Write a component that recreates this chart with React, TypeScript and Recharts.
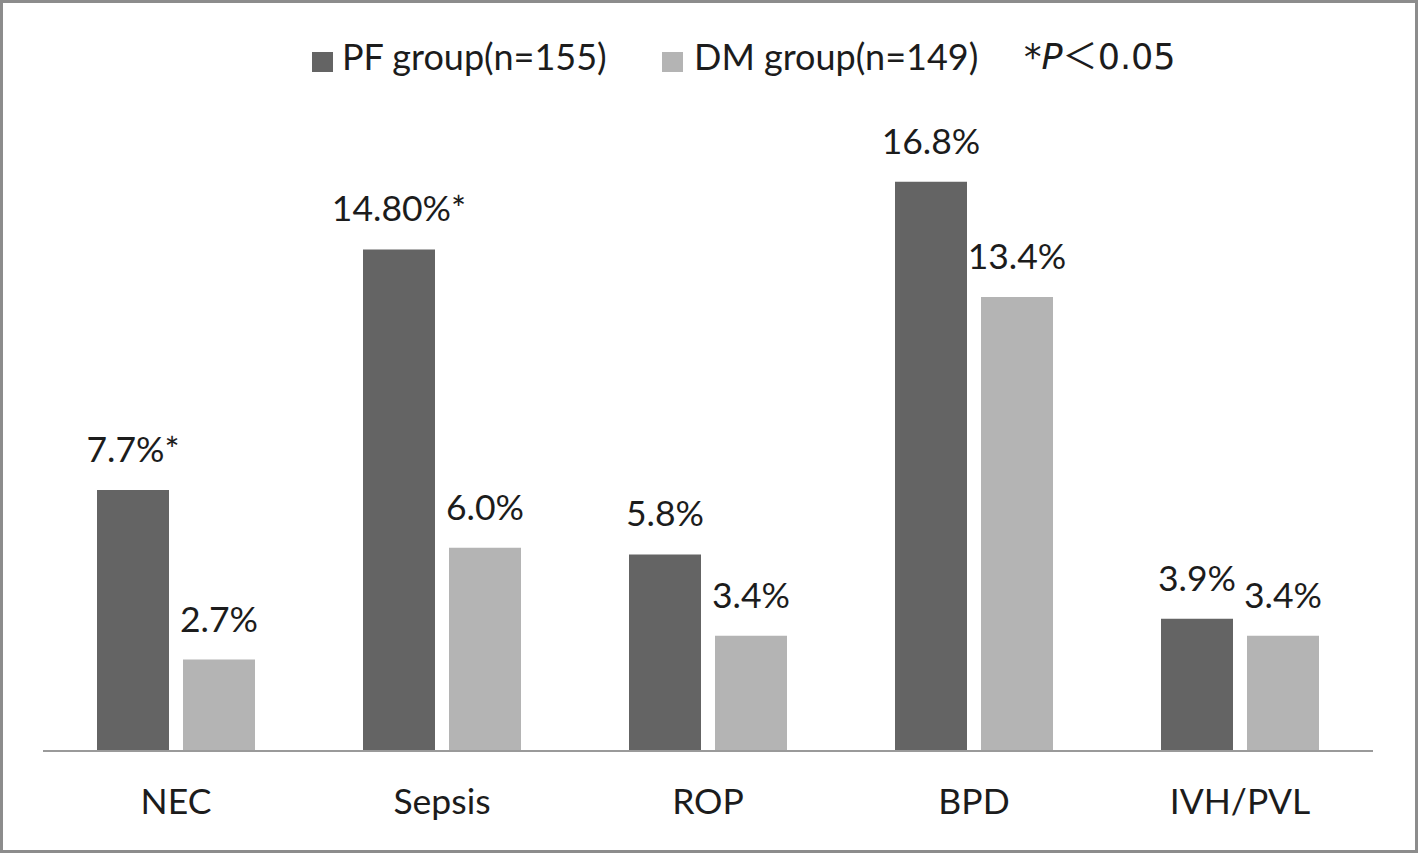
import { BarChart, Bar, XAxis, YAxis, LabelList } from "recharts";

const categories = ["NEC", "Sepsis", "ROP", "BPD", "IVH/PVL"];
const pfValues = [7.7, 14.8, 5.8, 16.8, 3.9];
const dmValues = [2.7, 6.0, 3.4, 13.4, 3.4];
const pfLabels = ["7.7%*", "14.80%*", "5.8%", "16.8%", "3.9%"];
const dmLabels = ["2.7%", "6.0%", "3.4%", "13.4%", "3.4%"];

const PF_COLOR = "#646464";
const DM_COLOR = "#b4b4b4";
const TEXT = "#1c1c1c";
const FONT = "Lato, 'Open Sans', sans-serif";
const FONT_SIZE = 35.5;

const data = categories.map((name, i) => ({
    name,
    pf: pfValues[i],
    dm: dmValues[i],
}));

const makeLabel = (labels: string[]) => (props: any) => {
    const { x, y, width, index } = props;
    return (
        <text
            x={x + width / 2}
            y={y - 28}
            textAnchor="middle"
            fill={TEXT}
            fontSize={FONT_SIZE}
            fontFamily={FONT}
        >
            {labels[index]}
        </text>
    );
};

const CategoryTick = (props: any) => {
    const { x, y, payload } = props;
    return (
        <text x={x} y={y + 63} textAnchor="middle" fill={TEXT} fontSize={FONT_SIZE} fontFamily={FONT}>
            {payload.value}
        </text>
    );
};

// legend drawn as plain html on top of the chart
const LegendBox = () => (
    <div style={{ position: "absolute", left: 0, top: 28, width: 1418, height: 60, fontFamily: FONT, color: TEXT }}>
        <div style={{ position: "absolute", left: 312, top: 24, width: 21, height: 20, background: PF_COLOR }} />
        <div style={{ position: "absolute", left: 342, top: 6, fontSize: 36, lineHeight: "44px", whiteSpace: "nowrap" }}>
            PF group(n=155)
        </div>
        <div style={{ position: "absolute", left: 662, top: 24, width: 21, height: 20, background: DM_COLOR }} />
        <div style={{ position: "absolute", left: 694, top: 6, fontSize: 36, lineHeight: "44px", whiteSpace: "nowrap" }}>
            DM group(n=149)
        </div>
        <div
            style={{
                position: "absolute",
                left: 1024,
                top: 4,
                fontSize: 35,
                lineHeight: "44px",
                whiteSpace: "nowrap",
                fontFamily: "'DejaVu Sans', sans-serif",
            }}
        >
            *<i>P</i>
            <span style={{ fontFamily: "'Noto Sans CJK SC', sans-serif" }}>＜</span>0.05
        </div>
    </div>
);

export default function App() {
    return (
        <div
            style={{
                position: "absolute",
                left: 0,
                top: 0,
                width: 1418,
                height: 853,
                boxSizing: "border-box",
                border: "3px solid #8c8c8c",
                background: "#ffffff",
            }}
        >
            <div style={{ position: "absolute", left: -3, top: -3, width: 1418, height: 853 }}>
                <BarChart
                    width={1418}
                    height={853}
                    data={data}
                    margin={{ top: 141, right: 45, bottom: 42, left: 43 }}
                    barSize={72}
                    barGap={14}
                >
                    <XAxis
                        dataKey="name"
                        height={60}
                        tickLine={false}
                        tickSize={0}
                        tickMargin={0}
                        axisLine={{ stroke: "#9a9a9a", strokeWidth: 2 }}
                        tick={<CategoryTick />}
                        interval={0}
                    />
                    <YAxis hide domain={[0, 18]} />
                    <Bar dataKey="pf" fill={PF_COLOR} isAnimationActive={false}>
                        <LabelList dataKey="pf" content={makeLabel(pfLabels)} />
                    </Bar>
                    <Bar dataKey="dm" fill={DM_COLOR} isAnimationActive={false}>
                        <LabelList dataKey="dm" content={makeLabel(dmLabels)} />
                    </Bar>
                </BarChart>
                <LegendBox />
            </div>
        </div>
    );
}
